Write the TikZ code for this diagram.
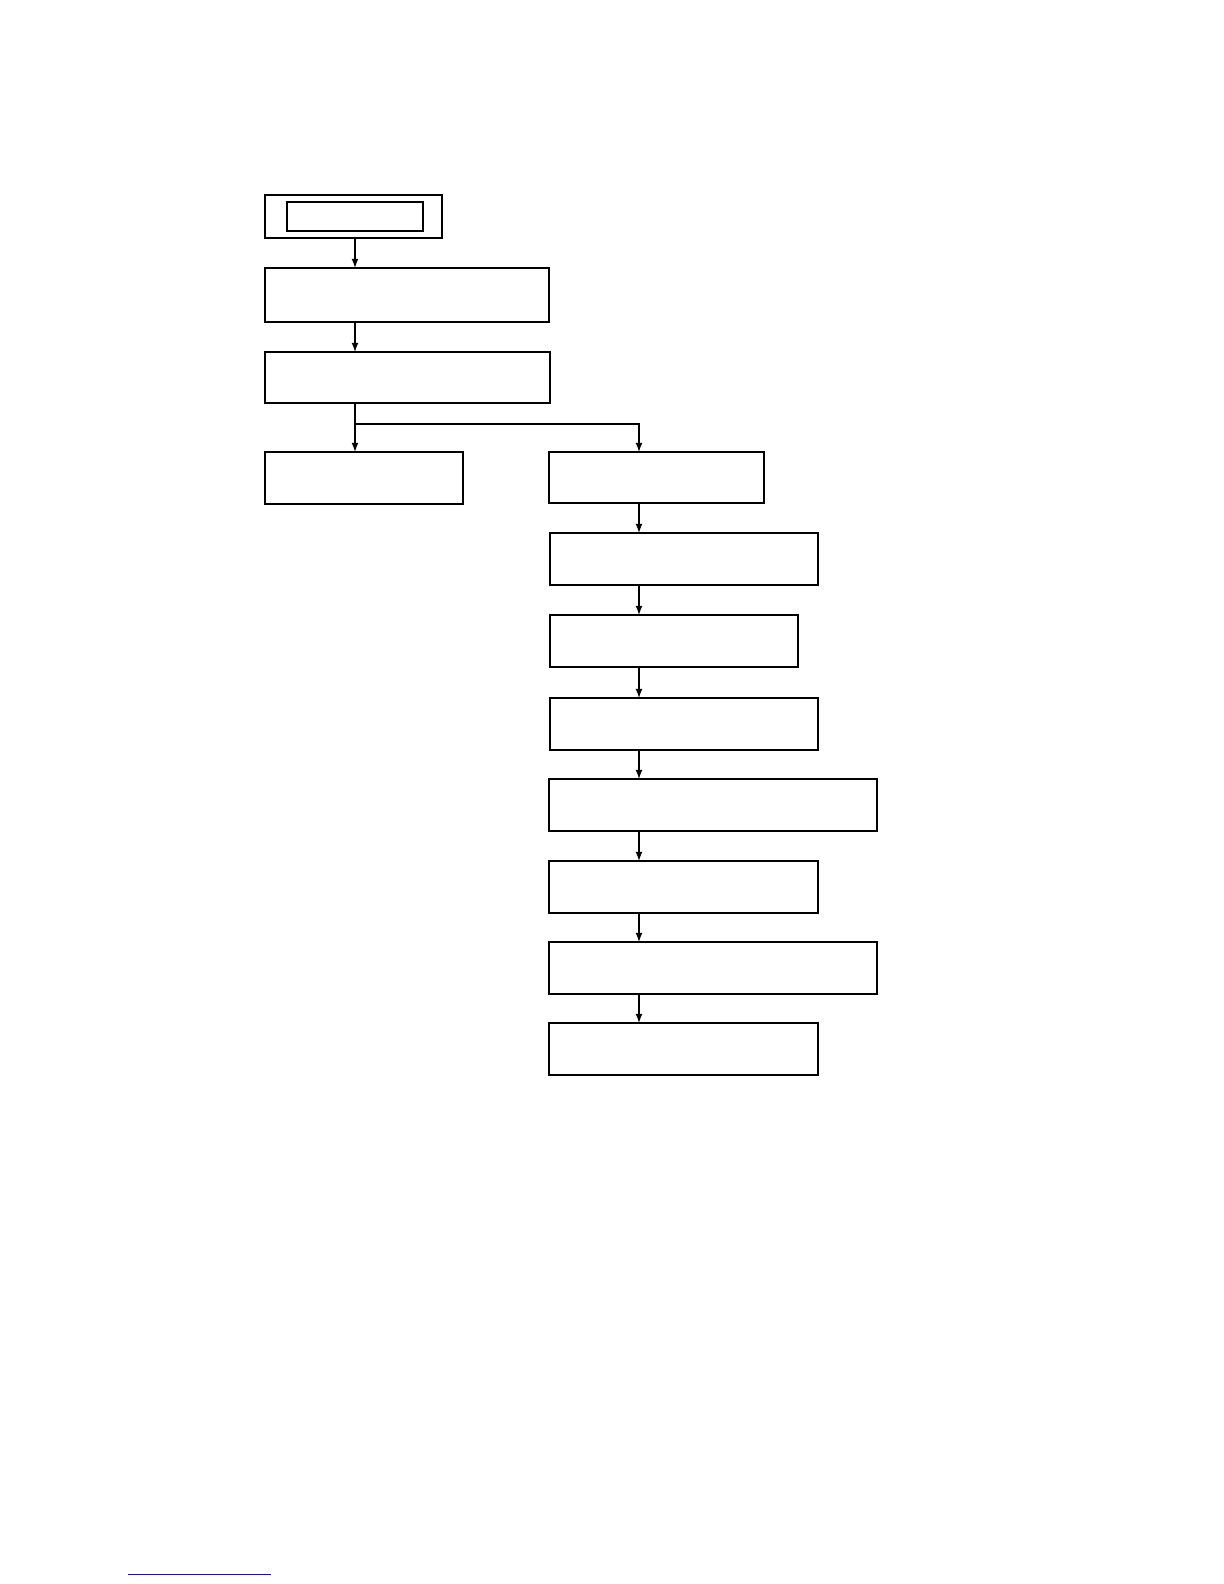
\documentclass[tikz,border=0pt]{standalone}
\usepackage{xcolor}
\usetikzlibrary{
  arrows,
  shapes
}
\definecolor{linkblue}{RGB}{20,20,140}

\begin{document}
\begin{tikzpicture}[
  x=0.5pt, y=-0.5pt,
  line width=0.6pt,
  >=latex,
  every node/.style = {shape=rectangle, draw, anchor=north west,
    inner sep=0pt, outer sep=0pt, minimum height=26pt},
  flow/.style = {->}]
  \useasboundingbox (0,0) rectangle (1224,1584);
  \coordinate (lspine) at (355,0);
  \coordinate (rspine) at (639,0);
  % left column
  \node[minimum width=88.5pt, minimum height=21.5pt] (start) at (265,195) {};
  \node[minimum width=68pt, minimum height=14.5pt] (title) at (287,202) {};
  \node[minimum width=142pt, minimum height=27pt] (setup) at (265,268) {};
  \node[minimum width=142.5pt, minimum height=25.5pt] (split) at (265,352) {};
  \node[minimum width=99pt] (leftend) at (265,452) {};
  % right column
  \node[minimum width=107.5pt, minimum height=25.5pt] (stageA) at (549,452) {};
  \node[minimum width=134pt] (stageB) at (550,533) {};
  \node[minimum width=124pt] (stageC) at (550,615) {};
  \node[minimum width=134pt] (stageD) at (550,698) {};
  \node[minimum width=164pt] (stageE) at (549,779) {};
  \node[minimum width=134.5pt] (stageF) at (549,861) {};
  \node[minimum width=164pt] (stageG) at (549,942) {};
  \node[minimum width=134.5pt] (stageH) at (549,1023) {};
  \coordinate (fork) at (355,424);
  \draw[flow] (start.south -| lspine) -- (setup.north -| lspine);
  \draw[flow] (setup.south -| lspine) -- (split.north -| lspine);
  \draw[flow] (split.south -| lspine) -- (leftend.north -| lspine);
  \draw[flow] (fork) -- (fork -| rspine) -- (stageA.north -| rspine);
  \foreach \a/\b in {stageA/stageB, stageB/stageC, stageC/stageD,
    stageD/stageE, stageE/stageF, stageF/stageG, stageG/stageH}
    \draw[flow] (\a.south -| rspine) -- (\b.north -| rspine);
  \coordinate (ruleL) at (128,1574);
  \coordinate (ruleR) at (271,1574);
  \draw[linkblue, line width=0.5pt] (ruleL) -- (ruleR);
\end{tikzpicture}
\end{document}
